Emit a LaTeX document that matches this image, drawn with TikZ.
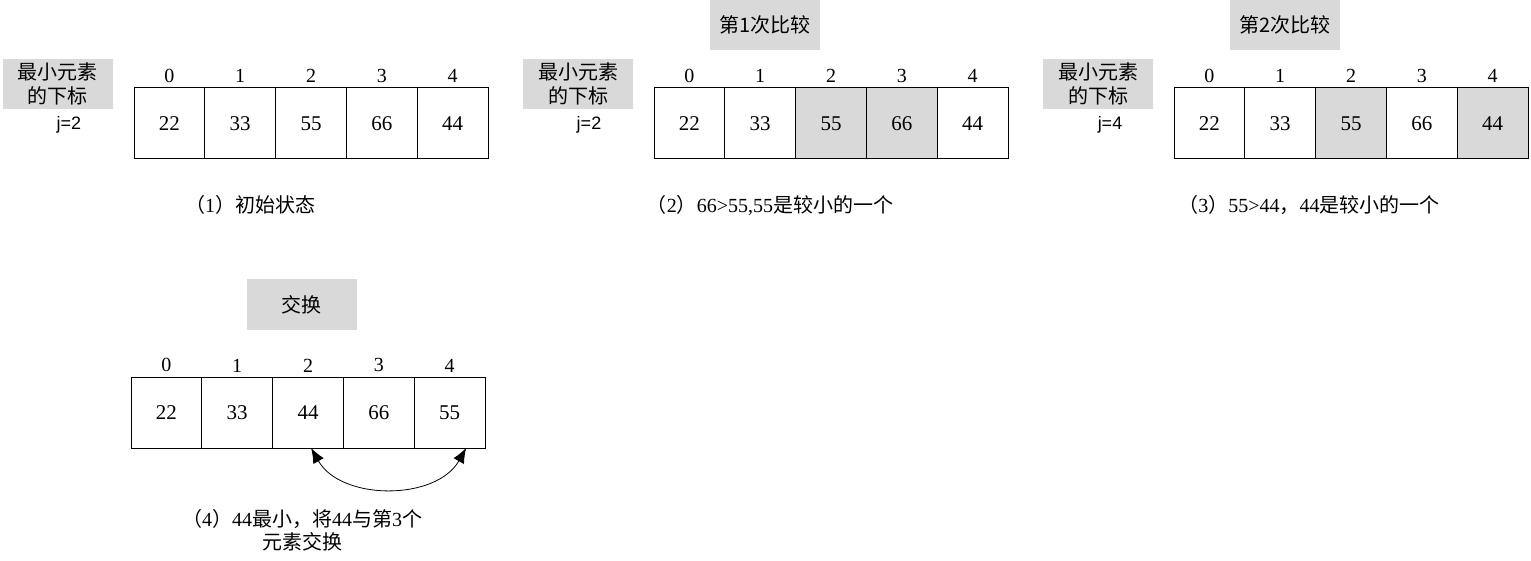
\documentclass[tikz,border=0pt]{standalone}
\usepackage{fontspec}
\setmainfont{Liberation Serif}
\setsansfont{Liberation Sans}
\newfontfamily\cjk{Noto Sans CJK SC}
\usetikzlibrary{arrows.meta,positioning}

\begin{document}
\begin{tikzpicture}[x=0.5pt,y=-0.5pt]
\tikzstyle{every node}=[inner sep=0pt, outer sep=0pt]
\tikzstyle{every label}=[font=\fontsize{10}{11}\selectfont, inner sep=0pt, yshift=2.5pt]
\tikzstyle{cell}=[draw, line width=0.5pt, minimum width=35.4pt, minimum height=35.5pt, label distance=3pt, font=\fontsize{10.5}{12}\selectfont]
\tikzstyle{hl}=[fill=gray!30]
\tikzstyle{tagbox}=[fill=gray!30, minimum width=55pt, minimum height=25pt, align=center, font=\fontsize{10}{12}\selectfont\cjk]
\tikzstyle{caption}=[align=center, font=\fontsize{10}{11.5}\selectfont]
\useasboundingbox (0,0) rectangle (1531,561);
% (1)
\draw (58,84) node (t1) [tagbox] {最小元素\\的下标};
\draw (69,125) node (j1) [font=\fontsize{9}{10}\selectfont\sffamily] {j=2};
\draw (134,88) node (a0) [cell, anchor=north west, label=above:0] {22};
\node (a1) [cell, right=0pt of a0, label=above:1] {33};
\node (a2) [cell, right=0pt of a1, label=above:2] {55};
\node (a3) [cell, right=0pt of a2, label=above:3] {66};
\node (a4) [cell, right=0pt of a3, label=above:4] {44};
\draw (250,205) node (p1) [caption] {{\cjk （}1{\cjk ）初始状态}};
% (2)
\draw (765,25) node (s1) [tagbox] {第1次比较};
\draw (578,84) node (t2) [tagbox] {最小元素\\的下标};
\draw (589,125) node (j2) [font=\fontsize{9}{10}\selectfont\sffamily] {j=2};
\draw (654,88) node (b0) [cell, anchor=north west, label=above:0] {22};
\node (b1) [cell, right=0pt of b0, label=above:1] {33};
\node (b2) [cell, hl, right=0pt of b1, label=above:2] {55};
\node (b3) [cell, hl, right=0pt of b2, label=above:3] {66};
\node (b4) [cell, right=0pt of b3, label=above:4] {44};
\draw (770,205) node (p2) [caption] {{\cjk （}2{\cjk ）}66>55,55{\cjk 是较小的一个}};
% (3)
\draw (1285,25) node (s2) [tagbox] {第2次比较};
\draw (1098,84) node (t3) [tagbox] {最小元素\\的下标};
\draw (1110,125) node (j3) [font=\fontsize{9}{10}\selectfont\sffamily] {j=4};
\draw (1174,88) node (c0) [cell, anchor=north west, label=above:0] {22};
\node (c1) [cell, right=0pt of c0, label=above:1] {33};
\node (c2) [cell, hl, right=0pt of c1, label=above:2] {55};
\node (c3) [cell, right=0pt of c2, label=above:3] {66};
\node (c4) [cell, hl, right=0pt of c3, label=above:4] {44};
\draw (1309,205) node (p3) [caption] {{\cjk （}3{\cjk ）}55>44{\cjk ，}44{\cjk 是较小的一个}};
% (4)
\draw (301.5,304.5) node (s3) [tagbox] {交换};
\draw (131,377) node (d0) [cell, anchor=north west, label=above:0] {22};
\node (d1) [cell, right=0pt of d0, label=above:1] {33};
\node (d2) [cell, right=0pt of d1, label=above:2] {44};
\node (d3) [cell, right=0pt of d2, label=above:3] {66};
\node (d4) [cell, right=0pt of d3, label=above:4] {55};
\draw [{Latex[length=7.5pt,width=6pt]}-{Latex[length=7.5pt,width=6pt]}] (d2.-85) .. controls +(30,53) and +(-30,53) .. (d4.-65);
\draw (302,530) node (p4) [caption] {{\cjk （}4{\cjk ）}44{\cjk 最小，将}44{\cjk 与第}3{\cjk 个}\\{\cjk 元素交换}};
\end{tikzpicture}
\end{document}
